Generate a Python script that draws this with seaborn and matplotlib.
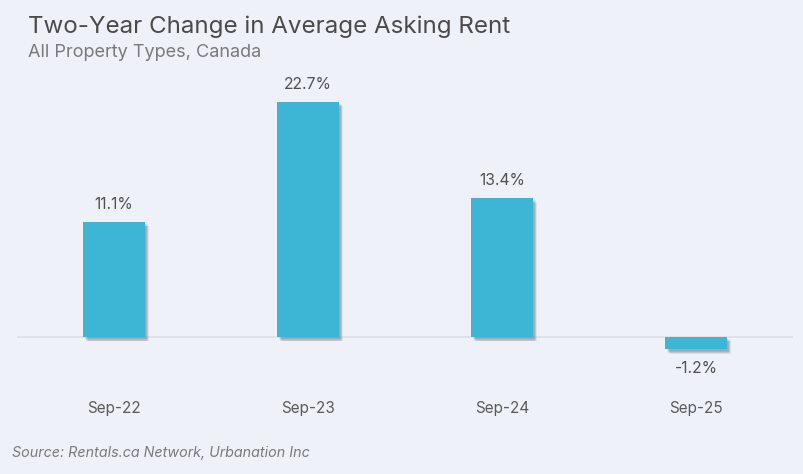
import matplotlib
matplotlib.use("Agg")
import matplotlib.pyplot as plt
import matplotlib.patheffects as pe
import seaborn as sns
import pandas as pd

categories = ["Sep-22", "Sep-23", "Sep-24", "Sep-25"]
values = [11.1, 22.7, 13.4, -1.2]
labels = ["11.1%", "22.7%", "13.4%", "-1.2%"]

BG = "#eef2f8"
BAR = "#3db5d5"

sns.set_theme(style="white")
plt.rcParams["font.family"] = ["Inter", "DejaVu Sans"]

df = pd.DataFrame({"cat": categories, "val": values})

fig = plt.figure(figsize=(8.04, 4.74), dpi=100, facecolor=BG)
ax = fig.add_axes([17/804, 1 - 380/474, 776/804, 305/474])
ax.set_facecolor(BG)

sns.barplot(data=df, x="cat", y="val", color=BAR, width=0.315, ax=ax,
            saturation=1, edgecolor="none", zorder=3)

shadow = []
for dx, dy in [(1.2, -1.2), (2.0, -2.0), (2.8, -2.8), (1.5, -2.6), (2.6, -1.5), (3.4, -3.2)]:
    shadow.append(pe.SimplePatchShadow(offset=(dx, dy), shadow_rgbFace="#6d7278", alpha=0.13))
shadow.append(pe.Normal())
for p in ax.patches:
    p.set_path_effects(shadow)

ax.set_xlim(-0.5, 3.5)
ax.set_ylim(-4.15, 25.29)
ax.axhline(0, color="#dde1e6", lw=1.2, zorder=1)

for i, (v, lab) in enumerate(zip(values, labels)):
    if v >= 0:
        ax.annotate(lab, (i, v), xytext=(0, 7), textcoords="offset points",
                    ha="center", va="bottom", fontsize=11.3, color="#505050")
    else:
        ax.annotate(lab, (i, v), xytext=(0, -8), textcoords="offset points",
                    ha="center", va="top", fontsize=11.3, color="#505050")

for s in ax.spines.values():
    s.set_visible(False)
ax.set_yticks([])
ax.set_xlabel("")
ax.set_ylabel("")
ax.tick_params(axis="x", length=0, pad=15, labelsize=11, labelcolor="#5a5a5a")

fig.text(28/804, 1 - 33/474, "Two-Year Change in Average Asking Rent", fontsize=17.4,
         color="#4a4a4a", ha="left", va="baseline")
fig.text(28/804, 1 - 57/474, "All Property Types, Canada", fontsize=13,
         color="#7a7a7a", ha="left", va="baseline")
fig.text(12/804, 1 - 457/474, "Source: Rentals.ca Network, Urbanation Inc", fontsize=10.3,
         color="#7a7a7a", ha="left", va="baseline", style="italic")

fig.savefig("out.png", dpi=100, facecolor=BG)
